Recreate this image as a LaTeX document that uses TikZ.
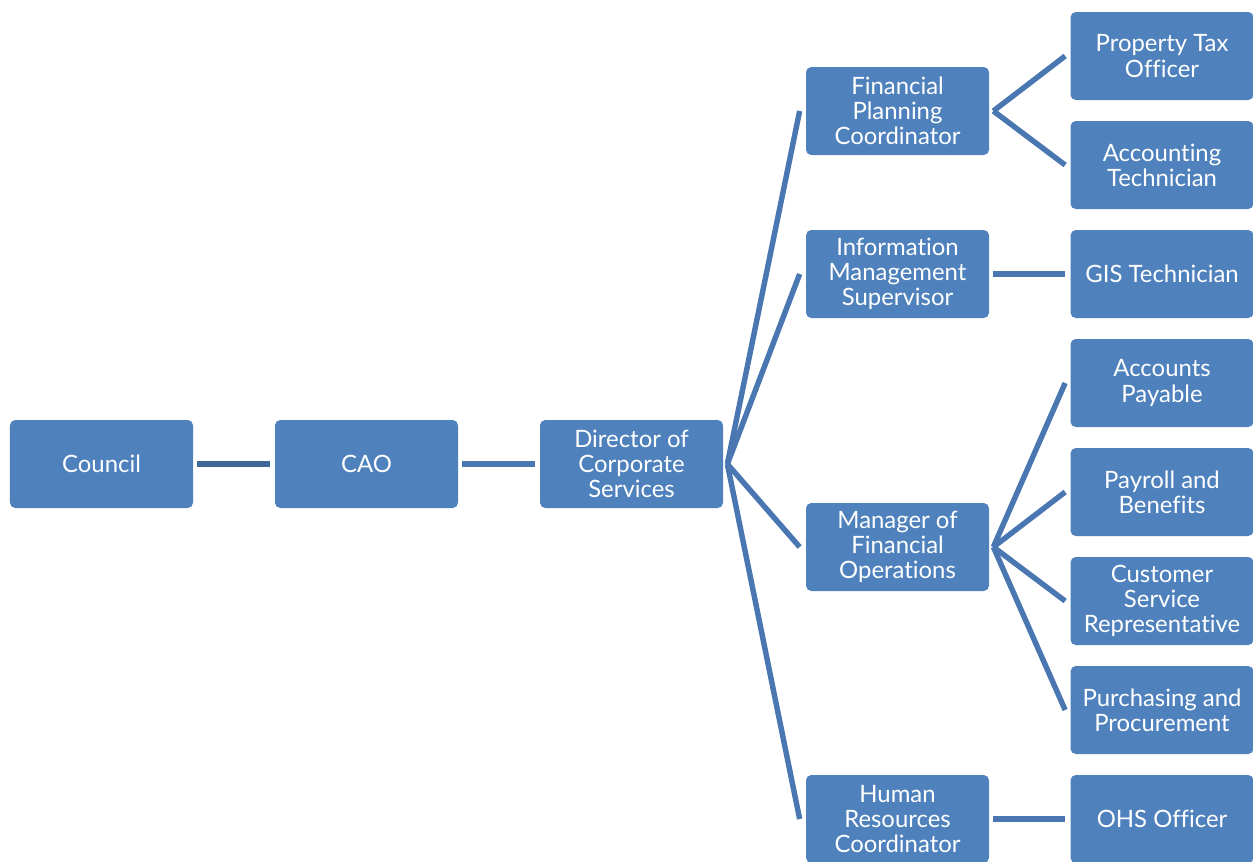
\documentclass[tikz,border=0pt]{standalone}
\usepackage{fontspec}
\setmainfont{Lato}[Ligatures=NoCommon]
\usepackage{xcolor}
\usepackage{tikz}
\usetikzlibrary{calc}
\definecolor{boxblue}{HTML}{4F81BD}
\definecolor{linkblue}{HTML}{4A77B1}
\definecolor{linkdark}{HTML}{3F6898}
\tikzset{
  post/.style={fill=boxblue, draw=none, rounded corners=3pt, minimum width=3.66cm,
    minimum height=1.76cm, inner sep=0pt, align=center, text=white,
    font=\fontsize{13.6}{14.3}\selectfont},
  link/.style={draw=linkblue, line width=3.1pt},
  linkd/.style={draw=linkdark, line width=3.1pt}
}

\begin{document}
\begin{tikzpicture}
  \useasboundingbox (0,0) rectangle (25.06,-17.22);

  % top of the line
  \node[post] (council) at (2.03,-9.28) {Council};
  \node[post] (cao) at (7.33,-9.28) {CAO};
  \node[post] (dir) at (12.63,-9.28) {Director of\\Corporate\\Services};

  % middle column
  \node[post] (fpc) at (17.95,-2.22) {Financial\\Planning\\Coordinator};
  \node[post] (ims) at (17.95,-5.48) {Information\\Management\\Supervisor};
  \node[post] (mfo) at (17.95,-10.94) {Manager of\\Financial\\Operations};
  \node[post] (hrc) at (17.95,-16.38) {Human\\Resources\\Coordinator};

  % right column
  \node[post] (pto) at (23.24,-1.12) {Property Tax\\Officer};
  \node[post] (acct) at (23.24,-3.30) {Accounting\\Technician};
  \node[post] (gis) at (23.24,-5.48) {GIS Technician};
  \node[post] (ap) at (23.24,-7.66) {Accounts\\Payable};
  \node[post] (pay) at (23.24,-9.84) {Payroll and\\Benefits};
  \node[post] (csr) at (23.24,-12.02) {Customer\\Service\\Representative};
  \node[post] (pp) at (23.24,-14.20) {Purchasing and\\Procurement};
  \node[post] (ohs) at (23.24,-16.38) {OHS Officer};

  \draw[linkd] ([xshift=0.08cm]council.east) -- ([xshift=-0.10cm]cao.west);
  \draw[link] ([xshift=0.08cm]cao.east) -- ([xshift=-0.10cm]dir.west);

  \foreach \n in {fpc,ims,mfo,hrc}
    \draw[link] ([xshift=0.08cm]dir.east) -- ([xshift=-0.12cm]\n.west);
  \foreach \n in {pto,acct}
    \draw[link] ([xshift=0.08cm]fpc.east) -- ([xshift=-0.10cm]\n.west);
  \draw[link] ([xshift=0.08cm]ims.east) -- ([xshift=-0.10cm]gis.west);
  \foreach \n in {ap,pay,csr,pp}
    \draw[link] ([xshift=0.08cm]mfo.east) -- ([xshift=-0.10cm]\n.west);
  \draw[link] ([xshift=0.08cm]hrc.east) -- ([xshift=-0.10cm]ohs.west);
\end{tikzpicture}
\end{document}
